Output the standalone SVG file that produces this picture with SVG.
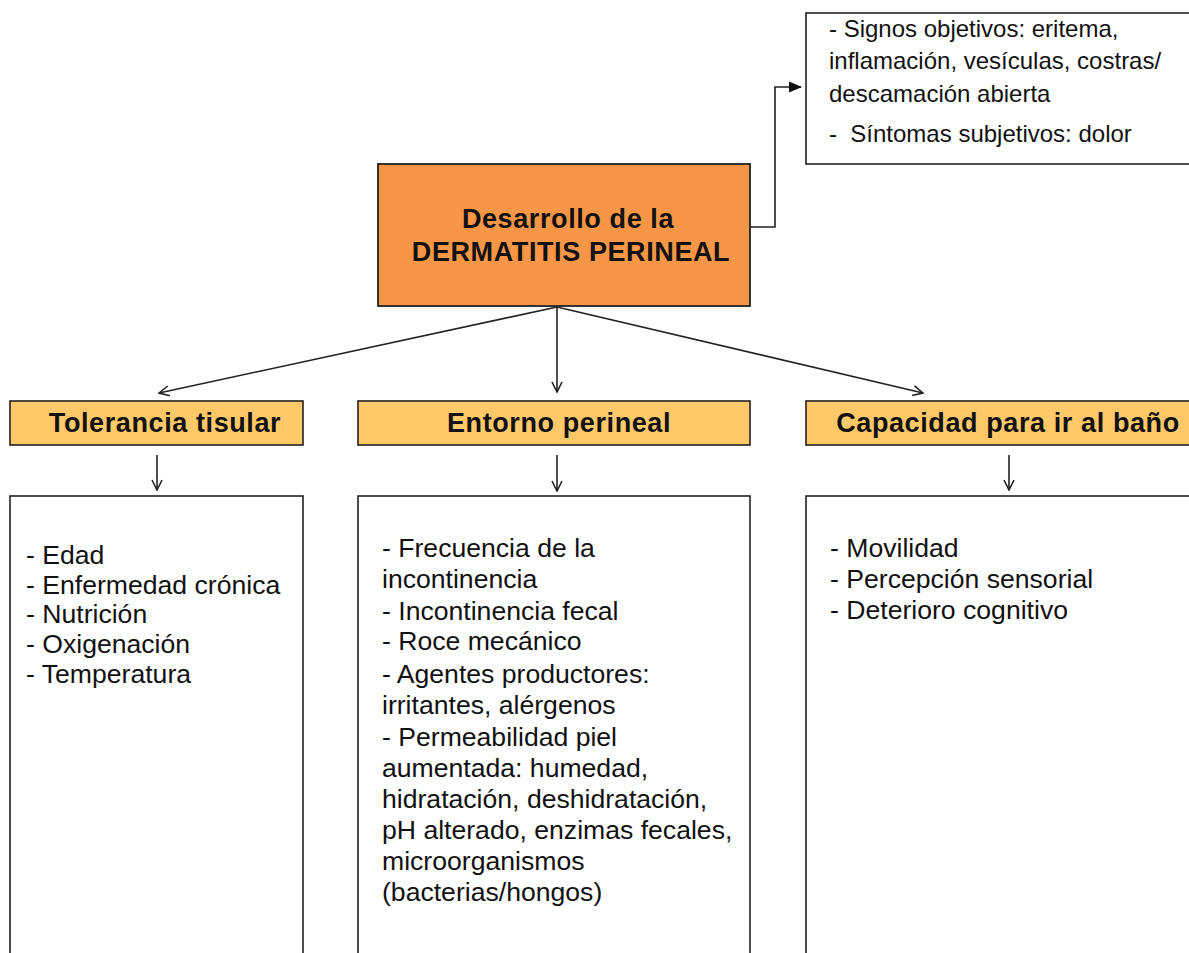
<svg xmlns="http://www.w3.org/2000/svg" width="1189" height="953" viewBox="0 0 1189 953">
<style>
.box{fill:#fff;stroke:#222;stroke-width:1.6}
.main{fill:#F79646;stroke:#222;stroke-width:1.8}
.hdr{fill:#FFC869;stroke:#222;stroke-width:1.6}
.b{font-family:"Liberation Sans",Arial,sans-serif;font-weight:bold;font-size:27px;letter-spacing:0.6px;fill:#111;text-anchor:middle}
.t{font-family:"Liberation Sans",Arial,sans-serif;font-size:26.6px;fill:#111}
.s{font-family:"Liberation Sans",Arial,sans-serif;font-size:24px;fill:#111}
.c{fill:none;stroke:#222;stroke-width:1.6}
</style>
<defs>
<marker id="open" viewBox="0 0 12 12" refX="11" refY="6" markerWidth="12" markerHeight="12" markerUnits="userSpaceOnUse" orient="auto">
<path d="M1,1 L11,6 L1,11" fill="none" stroke="#222" stroke-width="1.6"/>
</marker>
<marker id="solid" viewBox="0 0 12 12" refX="11" refY="6" markerWidth="13" markerHeight="13" markerUnits="userSpaceOnUse" orient="auto">
<path d="M0,1 L12,6 L0,11 Z" fill="#111"/>
</marker>
</defs>
<rect width="1189" height="953" fill="#fff"/>

<g id="connectors">
<polyline class="c" points="750,227 775,227 775,87 801,87" marker-end="url(#solid)"/>
<line class="c" x1="557" y1="307" x2="159" y2="393" marker-end="url(#open)"/>
<line class="c" x1="557" y1="307" x2="557" y2="392" marker-end="url(#open)"/>
<line class="c" x1="557" y1="307" x2="923" y2="393" marker-end="url(#open)"/>
<line class="c" x1="157" y1="455" x2="157" y2="490" marker-end="url(#open)"/>
<line class="c" x1="557" y1="455" x2="557" y2="491" marker-end="url(#open)"/>
<line class="c" x1="1009" y1="455" x2="1009" y2="490" marker-end="url(#open)"/>
</g>

<g id="signos">
<rect class="box" x="806" y="13" width="420" height="151"/>
<text class="s" x="829" y="37">- Signos objetivos: eritema,</text>
<text class="s" x="829" y="69">inflamación, vesículas, costras/</text>
<text class="s" x="829" y="102">descamación abierta</text>
<text class="s" x="829" y="142" xml:space="preserve">-  Síntomas subjetivos: dolor</text>
</g>

<g id="main">
<rect class="main" x="378" y="164" width="372" height="142"/>
<text class="b" x="568" y="228">Desarrollo de la</text>
<text class="b" x="571" y="261">DERMATITIS PERINEAL</text>
</g>

<g id="tolerancia">
<rect class="hdr" x="10" y="401" width="293" height="44"/>
<text class="b" x="165" y="432">Tolerancia tisular</text>
</g>
<g id="entorno">
<rect class="hdr" x="358" y="401" width="392" height="44"/>
<text class="b" x="559" y="432">Entorno perineal</text>
</g>
<g id="capacidad">
<rect class="hdr" x="806" y="401" width="420" height="44"/>
<text class="b" x="1008" y="432">Capacidad para ir al baño</text>
</g>

<g id="tolerancia-items">
<rect class="box" x="10" y="496" width="293" height="500"/>
<text class="t" x="26" y="564">- Edad</text>
<text class="t" x="26" y="594">- Enfermedad crónica</text>
<text class="t" x="26" y="623">- Nutrición</text>
<text class="t" x="26" y="653">- Oxigenación</text>
<text class="t" x="26" y="683">- Temperatura</text>
</g>

<g id="entorno-items">
<rect class="box" x="358" y="496" width="392" height="500"/>
<text class="t" x="382" y="557">- Frecuencia de la</text>
<text class="t" x="382" y="588">incontinencia</text>
<text class="t" x="382" y="620">- Incontinencia fecal</text>
<text class="t" x="382" y="650">- Roce mecánico</text>
<text class="t" x="382" y="683">- Agentes productores:</text>
<text class="t" x="382" y="714">irritantes, alérgenos</text>
<text class="t" x="382" y="746">- Permeabilidad piel</text>
<text class="t" x="382" y="777">aumentada: humedad,</text>
<text class="t" x="382" y="808">hidratación, deshidratación,</text>
<text class="t" x="382" y="839">pH alterado, enzimas fecales,</text>
<text class="t" x="382" y="870">microorganismos</text>
<text class="t" x="382" y="901">(bacterias/hongos)</text>
</g>

<g id="capacidad-items">
<rect class="box" x="806" y="496" width="420" height="500"/>
<text class="t" x="830" y="557">- Movilidad</text>
<text class="t" x="830" y="588">- Percepción sensorial</text>
<text class="t" x="830" y="619">- Deterioro cognitivo</text>
</g>
</svg>
